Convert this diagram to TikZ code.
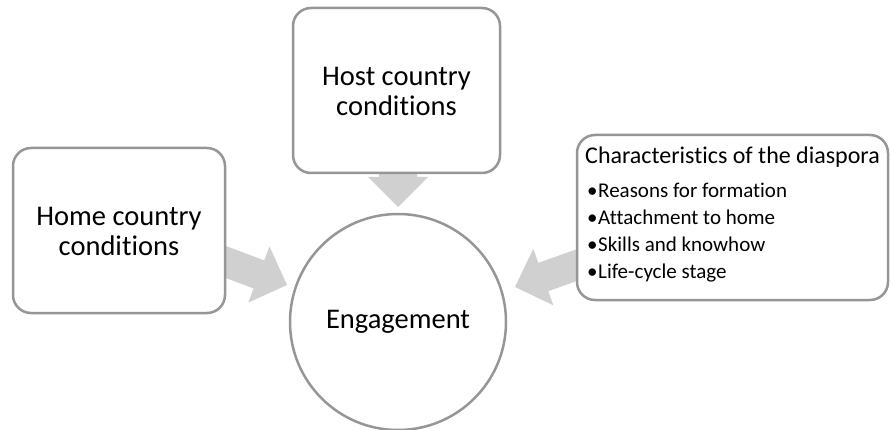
\documentclass[tikz,border=0pt]{standalone}
\usepackage{fontspec}
\setmainfont[Ligatures=NoCommon]{Carlito}
\definecolor{bordergray}{RGB}{150,150,150}
\definecolor{arrowgray}{RGB}{208,208,208}
\tikzset{
  box/.style={draw=bordergray, line width=2.5pt, fill=white, rounded corners=18pt, inner sep=0pt},
  bigtext/.style={font=\fontsize{28.5}{30}\selectfont, align=center, inner sep=0pt},
  headtext/.style={font=\fontsize{24}{28}\selectfont, anchor=base west, inner sep=0pt},
  itemtext/.style={font=\fontsize{21}{26}\selectfont, anchor=base west, inner sep=0pt},
  blockarrow/.style={fill=arrowgray, draw=none}
}
\newcommand{\myarrow}[4]{% tip x, tip y, angle, shaft half-width
  \begin{scope}[shift={(#1,#2)}, rotate=#3]
    \fill[arrowgray] (0,0) -- (-30,-30) -- (-30,-#4) -- (-90,-#4) -- (-90,#4) -- (-30,#4) -- (-30,30) -- cycle;
  \end{scope}}
\begin{document}
\begin{tikzpicture}[x=1pt, y=-1pt]
\useasboundingbox (0,0) rectangle (890,430);
% arrows (drawn first, boxes cover their shafts)
\coordinate (toptip) at (398,207);
\coordinate (lefttip) at (287,285);
\coordinate (righttip) at (515,287);
\myarrow{398}{207}{-90}{19}
\myarrow{287}{285}{-20.6}{15}
\myarrow{515}{287}{-160.5}{15}
% circle
\node[circle, draw=bordergray, line width=2.5pt, fill=white, minimum size=216pt, inner sep=0pt] (eng) at (398,322) {};
\node[bigtext] (engtext) at (398,322) {Engagement};
% top box
\node[box, minimum width=207pt, minimum height=165pt] (host) at (396.5,90.5) {};
\node[bigtext] (hosttext) at (396.5,91) {Host country\\conditions};
% left box
\node[box, minimum width=212pt, minimum height=165pt] (home) at (119,230.5) {};
\node[bigtext] (hometext) at (119,231) {Home country\\conditions};
% right box
\node[box, minimum width=311pt, minimum height=165pt] (dias) at (732.5,217.5) {};
\node[headtext] (head) at (585,164) {Characteristics of the diaspora};
\node[itemtext] (b1) at (587,198) {•};
\node[itemtext] (i1) at (598,198) {Reasons for formation};
\node[itemtext] (b2) at (587,224.7) {•};
\node[itemtext] (i2) at (598,224.7) {Attachment to home};
\node[itemtext] (b3) at (587,251.4) {•};
\node[itemtext] (i3) at (598,251.4) {Skills and knowhow};
\node[itemtext] (b4) at (587,278.1) {•};
\node[itemtext] (i4) at (598,278.1) {Life-cycle stage};
\end{tikzpicture}
\end{document}
